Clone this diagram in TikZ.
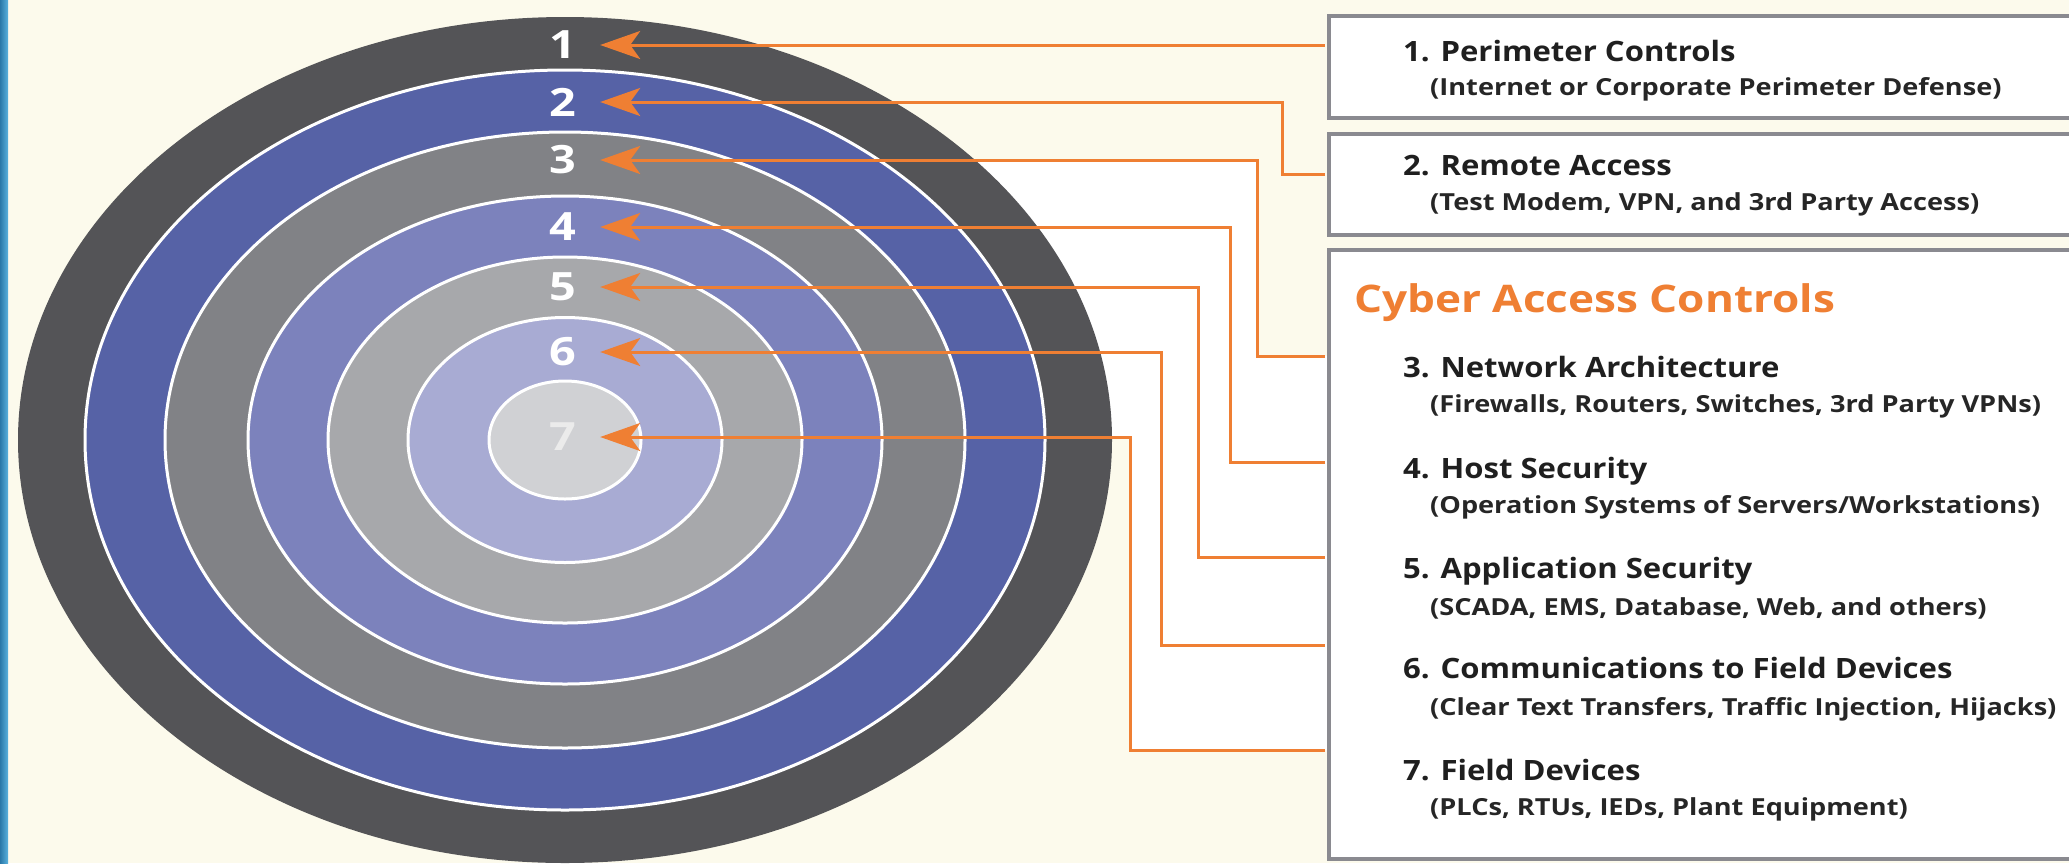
\documentclass[tikz,border=0pt]{standalone}
\usepackage{fontspec}
\setmainfont{Open Sans}
\usetikzlibrary{arrows.meta}
\definecolor{bgc}{HTML}{FCFAEC}
\definecolor{ringA}{HTML}{545457}
\definecolor{ringB}{HTML}{5662A6}
\definecolor{ringC}{HTML}{818286}
\definecolor{ringD}{HTML}{7C82BC}
\definecolor{ringE}{HTML}{A7A8AB}
\definecolor{ringF}{HTML}{A8ABD3}
\definecolor{ringG}{HTML}{D0D1D4}
\definecolor{orng}{HTML}{EF7F33}
\definecolor{boxgray}{HTML}{8A8A90}
\definecolor{stripL}{HTML}{2A78A8}
\definecolor{stripR}{HTML}{5AB2DE}
\newcommand{\wideT}[1]{\scalebox{1.11}[1]{#1}}
\newcommand{\wideS}[1]{\scalebox{1.155}[1]{#1}}
\newcommand{\wideD}[1]{\scalebox{1.2}[1]{#1}}
\begin{document}
\begin{tikzpicture}[x=1pt,y=-1pt,
  ringline/.style={draw=white,line width=3pt},
  lab/.style={inner sep=0pt,minimum width=74pt,text=white,font=\fontsize{39}{39}\selectfont\bfseries},
  boxst/.style={draw=boxgray,line width=4pt,fill=white,inner sep=0pt,anchor=north west},
  ttl/.style={anchor=base west,inner sep=0pt,font=\fontsize{28}{30}\selectfont\bfseries,text=black!88},
  sub/.style={anchor=base west,inner sep=0pt,font=\fontsize{23.5}{26}\selectfont\bfseries,text=black!85},
  conn/.style={draw=orng,line width=3pt,-{Stealth[length=40pt,width=28pt,inset=10pt]}}]
\useasboundingbox (0,0) rectangle (2069,863);
\fill[bgc] (0,0) rectangle (2069,863);
\shade[left color=stripL,right color=stripR] (0,0) rectangle (8,863);
% white area behind connectors
\fill[white] (700,160) -- (1257,160) -- (1257,356) -- (1327,356) -- (1327,750) -- (1130,750) -- (1130,437) -- (700,437) -- cycle;
% target rings
\fill[ringA] (565,440) ellipse [x radius=547, y radius=423];
\filldraw[fill=ringB,ringline] (565,440) ellipse [x radius=480, y radius=370];
\filldraw[fill=ringC,ringline] (565,440) ellipse [x radius=400, y radius=308];
\filldraw[fill=ringD,ringline] (565,440) ellipse [x radius=317, y radius=244];
\filldraw[fill=ringE,ringline] (565,440) ellipse [x radius=237, y radius=183];
\filldraw[fill=ringF,ringline] (565,440) ellipse [x radius=157, y radius=122.5];
\filldraw[fill=ringG,ringline] (565,440) ellipse [x radius=76, y radius=59];
% labels
\node[lab] (L1) at (563,45) {\wideD{1}};
\node[lab] (L2) at (563,102) {\wideD{2}};
\node[lab] (L3) at (563,160) {\wideD{3}};
\node[lab] (L4) at (563,227) {\wideD{4}};
\node[lab] (L5) at (563,287) {\wideD{5}};
\node[lab] (L6) at (563,352) {\wideD{6}};
\node[lab,text=white!92!black] (L7) at (563,437) {\wideD{7}};
% boxes
\node[boxst,minimum width=760pt,minimum height=102pt] (B1) at (1327,14) {};
\node[boxst,minimum width=760pt,minimum height=101pt] (B2) at (1327,132) {};
\node[boxst,minimum width=760pt,minimum height=609pt] (B3) at (1327,248) {};
% texts
\node[ttl] (T1) at (1403,61) {\wideT{1. Perimeter Controls}};
\node[sub] (S1) at (1430,95) {\wideS{(Internet or Corporate Perimeter Defense)}};
\node[ttl] (T2) at (1403,175) {\wideT{2. Remote Access}};
\node[sub] (S2) at (1430,210) {\wideS{(Test Modem, VPN, and 3rd Party Access)}};
\node[anchor=base west,inner sep=0pt,font=\fontsize{38}{40}\selectfont\bfseries,text=orng] (CT) at (1354,312) {\scalebox{1.16}[1]{Cyber Access Controls}};
\node[ttl] (T3) at (1403,377) {\wideT{3. Network Architecture}};
\node[sub] (S3) at (1430,412) {\wideS{(Firewalls, Routers, Switches, 3rd Party VPNs)}};
\node[ttl] (T4) at (1403,478) {\wideT{4. Host Security}};
\node[sub] (S4) at (1430,513) {\wideS{(Operation Systems of Servers/Workstations)}};
\node[ttl] (T5) at (1403,578) {\wideT{5. Application Security}};
\node[sub] (S5) at (1430,615) {\wideS{(SCADA, EMS, Database, Web, and others)}};
\node[ttl] (T6) at (1403,678) {\wideT{6. Communications to Field Devices}};
\node[sub] (S6) at (1430,715) {\wideS{(Clear Text Transfers, Traffic Injection, Hijacks)}};
\node[ttl] (T7) at (1403,780) {\wideT{7. Field Devices}};
\node[sub] (S7) at (1430,815) {\wideS{(PLCs, RTUs, IEDs, Plant Equipment)}};
% connector ends at the boxes
\coordinate (e1) at (1325,45);
\coordinate (e2) at (1325,174);
\coordinate (e3) at (1325,356);
\coordinate (e4) at (1325,462);
\coordinate (e5) at (1325,557);
\coordinate (e6) at (1325,645);
\coordinate (e7) at (1325,750);
% connectors
\draw[conn] (e1) -- (L1.east);
\draw[conn] (e2) -- ++(-43,0) |- (L2.east);
\draw[conn] (e3) -- ++(-68,0) |- (L3.east);
\draw[conn] (e4) -- ++(-95,0) |- (L4.east);
\draw[conn] (e5) -- ++(-127,0) |- (L5.east);
\draw[conn] (e6) -- ++(-164,0) |- (L6.east);
\draw[conn] (e7) -- ++(-195,0) |- (L7.east);
\end{tikzpicture}
\end{document}
